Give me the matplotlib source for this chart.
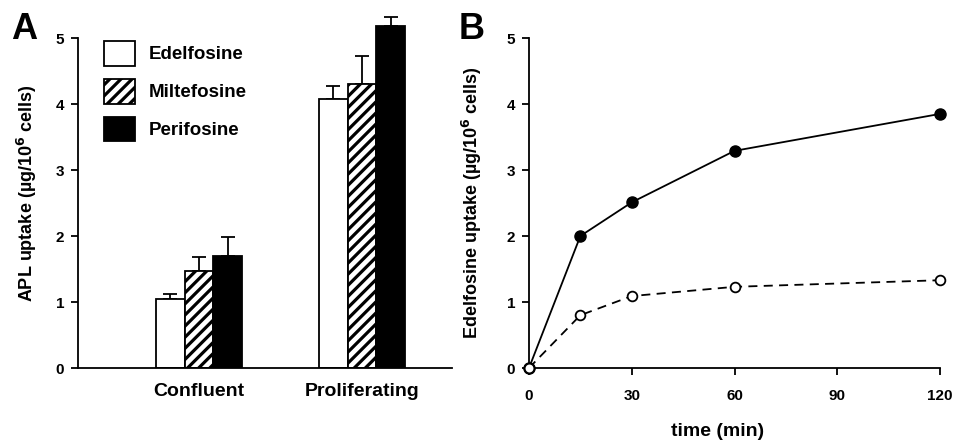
import matplotlib
matplotlib.use("Agg")
import matplotlib.pyplot as plt
import numpy as np

plt.rcParams['font.family'] = ['Liberation Sans', 'DejaVu Sans']
plt.rcParams['font.weight'] = 'bold'
plt.rcParams['hatch.linewidth'] = 2.3
plt.rcParams['hatch.color'] = 'black'

# Panel A data
groups = ["Confluent", "Proliferating"]
drugs = ["Edelfosine", "Miltefosine", "Perifosine"]
edelfosine = [1.05, 4.08]
miltefosine = [1.47, 4.30]
perifosine = [1.70, 5.18]
edelfosine_err = [0.07, 0.19]
miltefosine_err = [0.21, 0.42]
perifosine_err = [0.28, 0.14]

# Panel B data
time_min = [0, 15, 30, 60, 120]
uptake_proliferating = [0, 2.00, 2.51, 3.29, 3.85]
uptake_confluent = [0, 0.80, 1.09, 1.23, 1.33]

fig = plt.figure(figsize=(9.56, 4.42), dpi=100)
W, H = 956, 442
YTOP = 5.45
PX_PER_UNIT = (368 - 38) / 5.0

def ax_rect(l, r, b, t):
    return [l / W, 1 - b / H, (r - l) / W, (b - t) / H]

top_px = 368 - YTOP * PX_PER_UNIT

# ---- Panel A ----
axA = fig.add_axes(ax_rect(78, 452, 368, top_px))
x = np.arange(len(groups))
bw = 0.176
vals = [edelfosine, miltefosine, perifosine]
errs = [edelfosine_err, miltefosine_err, perifosine_err]
styles = [dict(facecolor='white', hatch=None),
          dict(facecolor='white', hatch='///'),
          dict(facecolor='black', hatch=None)]
handles = []
for i, (v, e, st) in enumerate(zip(vals, errs, styles)):
    pos = x + (i - 1) * bw
    b = axA.bar(pos, v, bw, edgecolor='black', linewidth=1.3, label=drugs[i],
                zorder=2, **st)
    handles.append(b)
    axA.errorbar(pos, v, yerr=[np.zeros(len(v)), e], fmt='none', ecolor='black',
                 elinewidth=1.3, capsize=5, capthick=1.3, zorder=1)
axA.set_xlim(-0.742, 1.552)
axA.set_ylim(0, YTOP)
axA.spines['left'].set_bounds(0, 5)
axA.set_yticks([0, 1, 2, 3, 4, 5])
axA.set_xticks(x)
axA.set_xticklabels(groups, fontsize=14, fontweight='bold')
axA.tick_params(axis='x', length=0, pad=11)
axA.tick_params(axis='y', direction='out', length=5, width=1.3, labelsize=11, pad=5)
for s in ['top', 'right']:
    axA.spines[s].set_visible(False)
for s in ['left', 'bottom']:
    axA.spines[s].set_linewidth(1.3)

leg = axA.legend(handles=handles, loc='upper left',
                 bbox_to_anchor=(104 / W, 1 - 41 / H),
                 bbox_transform=fig.transFigure, frameon=False,
                 fontsize=13.5, handlelength=1.65, handleheight=1.65,
                 handletextpad=0.75, labelspacing=0.7, borderpad=0,
                 borderaxespad=0)
for t in leg.get_texts():
    t.set_fontweight('bold')

fig.text(27 / W, 1 - 193 / H, "APL uptake (µg/10$^{\\mathbf{6}}$ cells)", rotation=90,
         ha='center', va='center', fontsize=13, fontweight='bold')
fig.text(11 / W, 1 - 12 / H, "A", ha='left', va='top', fontsize=26, fontweight='bold')

# ---- Panel B ----
axB = fig.add_axes(ax_rect(529, 940, 368, top_px))
axB.plot(time_min, uptake_proliferating, '-', color='black', lw=1.3,
         marker='o', markersize=8, markerfacecolor='black', clip_on=False, zorder=3)
axB.plot(time_min, uptake_confluent, color='black', lw=1.3, linestyle=(0, (5, 3.5)),
         marker='o', markersize=7, markerfacecolor='white', markeredgewidth=1.3,
         clip_on=False, zorder=3)
axB.set_xlim(0, 120)
axB.set_ylim(0, YTOP)
axB.spines['left'].set_bounds(0, 5)
axB.set_xticks([0, 30, 60, 90, 120])
axB.set_yticks([0, 1, 2, 3, 4, 5])
axB.tick_params(axis='both', direction='out', length=5, width=1.3, labelsize=11)
axB.tick_params(axis='x', pad=10)
axB.tick_params(axis='y', pad=5)
for s in ['top', 'right']:
    axB.spines[s].set_visible(False)
for s in ['left', 'bottom']:
    axB.spines[s].set_linewidth(1.3)
fig.text(718 / W, 1 - 432 / H, "time (min)", ha='center', va='center',
         fontsize=14, fontweight='bold')
fig.text(472 / W, 1 - 203 / H, "Edelfosine uptake (µg/10$^{\\mathbf{6}}$ cells)", rotation=90,
         ha='center', va='center', fontsize=13, fontweight='bold')
fig.text(459 / W, 1 - 12 / H, "B", ha='left', va='top', fontsize=26, fontweight='bold')

for ax in (axA, axB):
    for lab in ax.get_yticklabels() + ax.get_xticklabels():
        lab.set_fontweight('bold')

fig.savefig("out.png", dpi=100)
